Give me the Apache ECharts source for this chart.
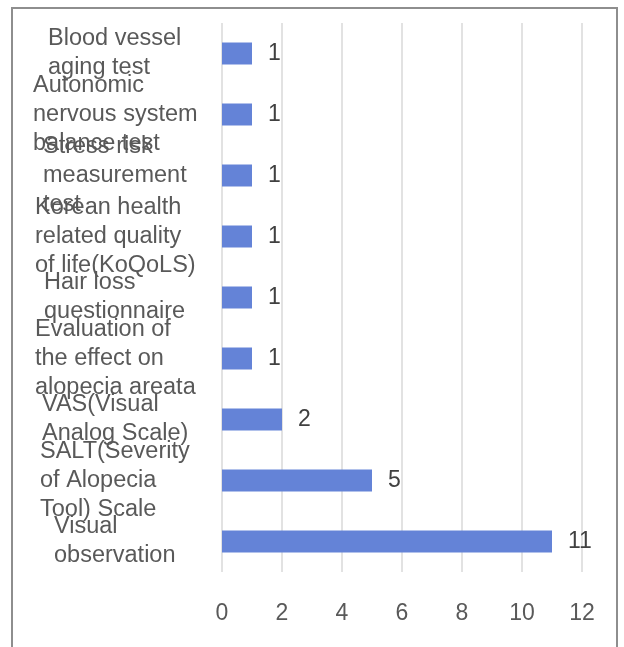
<!DOCTYPE html>
<html>
<head>
<meta charset="utf-8">
<script src="https://cdn.jsdelivr.net/npm/echarts@6/dist/echarts.min.js"></script>
<style>
  html, body { margin: 0; padding: 0; background: #fff; }
  .frame {
    position: absolute; left: 11px; top: 7px; width: 603px; height: 660px;
    border: 2px solid #8e8e8e; border-bottom: none;
  }
  #chart { position: absolute; left: 0; top: 0; width: 624px; height: 647px; }
</style>
</head>
<body>
<div class="frame"></div>
<div id="chart"></div>
<script>
// categories, bottom to top (category axis draws first item at the bottom)
let categories = [
  "Visual\nobservation",
  "SALT(Severity\nof Alopecia\nTool) Scale",
  "VAS(Visual\nAnalog Scale)",
  "Evaluation of\nthe effect on\nalopecia areata",
  "Hair loss\nquestionnaire",
  "Korean health\nrelated quality\nof life(KoQoLS)",
  "Stress risk\nmeasurement\ntest",
  "Autonomic\nnervous system\nbalance test",
  "Blood vessel\naging test"
];
let counts = [11, 5, 2, 1, 1, 1, 1, 1, 1];
let xTicks = [0, 12, 2]; // min, max, interval

// centre each left-aligned label block around the same x
let labelSize = 23.5;
let labelFont = labelSize + "px 'Liberation Sans', Arial, sans-serif";
let ctx = document.createElement("canvas").getContext("2d");
ctx.font = labelFont;
let blockWidth = 180;
let yData = categories.map(c => {
  let w = Math.max(...c.split("\n").map(l => ctx.measureText(l).width));
  return {
    value: c,
    textStyle: {
      align: "left",
      padding: [6, 0, 0, Math.max(0, Math.round((blockWidth - w) / 2))]
    }
  };
});

let option = {
  animation: false,
  grid: { left: 222, right: 42, top: 23, bottom: 75, outerBoundsMode: "none", containLabel: false },
  xAxis: {
    type: "value",
    min: xTicks[0],
    max: xTicks[1],
    interval: xTicks[2],
    axisLine: { show: false },
    axisTick: { show: false },
    axisLabel: {
      color: "#595959",
      fontSize: 23,
      fontFamily: "'Liberation Sans', Arial, sans-serif",
      margin: 30
    },
    splitLine: { lineStyle: { color: "#d9d9d9", width: 1.5 } }
  },
  yAxis: {
    type: "category",
    data: yData,
    axisLine: { show: false },
    axisTick: { show: false },
    axisLabel: {
      color: "#595959",
      fontSize: labelSize,
      lineHeight: 29,
      fontFamily: "'Liberation Sans', Arial, sans-serif",
      align: "left",
      margin: 197,
      interval: 0
    }
  },
  series: [
    {
      type: "bar",
      data: counts,
      barWidth: 22,
      itemStyle: { color: "#6483d7" },
      label: {
        show: true,
        position: "right",
        distance: 16,
        color: "#404040",
        fontSize: 23,
        fontFamily: "'Liberation Sans', Arial, sans-serif"
      }
    }
  ]
};

let myChart = echarts.init(document.getElementById("chart"));
myChart.setOption(option);
</script>
</body>
</html>
